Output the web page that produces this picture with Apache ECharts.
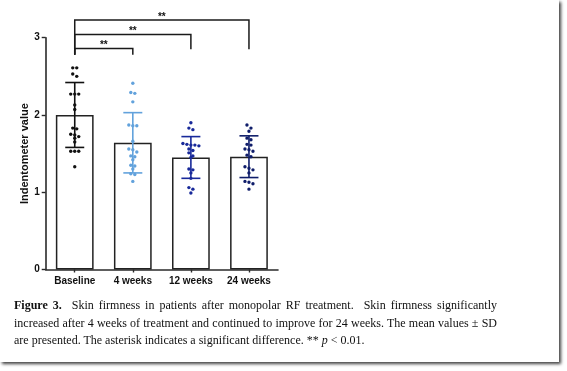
<!DOCTYPE html>
<html>
<head>
<meta charset="utf-8">
<script src="https://cdn.jsdelivr.net/npm/echarts@6/dist/echarts.min.js"></script>
<style>
  html, body { margin: 0; padding: 0; background: #fff; }
  body { width: 567px; height: 371px; position: relative; overflow: hidden; }
  #page { position: absolute; left: 0; top: 0; width: 559px; height: 362px; background: #fff;
          box-shadow: 2px 2px 3px rgba(0,0,0,0.75); }
  #chart { position: absolute; left: 0; top: 0; width: 567px; height: 371px; }
  #caption { position: absolute; left: 14px; top: 296px; width: 483px;
             font-family: "Liberation Serif", "Times New Roman", serif; font-size: 12px;
             line-height: 18px; color: #111; }
  #caption div.j { text-align: justify; text-align-last: justify; white-space: nowrap; }
  #caption div { height: 18px; }
  #caption div.l3 { height: 18px; margin-top: -1px; }
</style>
</head>
<body>
<div id="page"></div>
<div id="chart"></div>
<div id="caption">
  <div class="j"><b>Figure 3.</b>&nbsp; Skin firmness in patients after monopolar RF treatment.&nbsp; Skin firmness significantly</div>
  <div class="j">increased after 4 weeks of treatment and continued to improve for 24 weeks. The mean values ± SD</div>
  <div class="l3">are presented. The asterisk indicates a significant difference. ** <i>p</i> &lt; 0.01.</div>
</div>
<script>
const categories = ['Baseline', '4 weeks', '12 weeks', '24 weeks'];
const means = [2.0, 1.64, 1.45, 1.46];
const sds = [0.42, 0.39, 0.27, 0.27];
const baselineValues = [2.61, 2.61, 2.53, 2.50, 2.27, 2.27, 2.27, 2.13, 2.07, 1.83, 1.82, 1.75, 1.74, 1.72, 1.70, 1.65, 1.53, 1.53, 1.53, 1.33];
const week4Values = [2.41, 2.29, 2.28, 2.17, 1.87, 1.86, 1.86, 1.66, 1.56, 1.55, 1.52, 1.47, 1.46, 1.42, 1.35, 1.34, 1.30, 1.24, 1.23, 1.14];
const week12Values = [1.90, 1.83, 1.81, 1.63, 1.62, 1.61, 1.61, 1.60, 1.56, 1.54, 1.51, 1.47, 1.45, 1.30, 1.29, 1.25, 1.18, 1.06, 1.04, 0.99];
const week24Values = [1.87, 1.83, 1.79, 1.70, 1.68, 1.62, 1.61, 1.56, 1.55, 1.53, 1.48, 1.46, 1.33, 1.31, 1.29, 1.25, 1.14, 1.13, 1.11, 1.04];
const yTicks = { min: 0, max: 3, interval: 1 };
// significance comparisons: [from category, to category, bracket level, left end, right end, label]
const comparisons = [
  [0, 1, 2.86, 2.78, 2.78, '**'],
  [0, 2, 3.04, 2.78, 2.85, '**'],
  [0, 3, 3.23, 2.78, 2.85, '**']
];
const groupColors = ['#111111', '#62a2dc', '#18299a', '#0f1d6a'];

const groups = [baselineValues, week4Values, week12Values, week24Values];

// simple symmetric beeswarm: cluster near-equal values and spread them side by side
function swarmSlots(values, gap) {
  const idx = values.map((v, i) => i).sort((a, b) => values[b] - values[a]);
  const slots = new Array(values.length).fill(0);
  let cluster = [];
  const flush = () => {
    const n = cluster.length;
    cluster.forEach((id, k) => { slots[id] = k - (n - 1) / 2; });
    cluster = [];
  };
  idx.forEach(i => {
    if (cluster.length && values[cluster[0]] - values[i] > gap) flush();
    cluster.push(i);
  });
  flush();
  return slots;
}

const dotData = [];
groups.forEach((vals, g) => {
  const slots = swarmSlots(vals, 0.045);
  vals.forEach((v, i) => dotData.push([g, v, slots[i]]));
});
const errData = categories.map((c, i) => [i, means[i] - sds[i], means[i] + sds[i]]);

const chart = echarts.init(document.getElementById('chart'), null, { renderer: 'canvas' });
const axisColor = '#2a2a2a';
const sans = 'Liberation Sans, Arial, sans-serif';
chart.setOption({
  animation: false,
  backgroundColor: 'transparent',
  grid: { left: 45.7, right: 289, top: 37.7, bottom: 101.5, containLabel: false },
  xAxis: {
    type: 'category', data: categories,
    axisLine: { lineStyle: { color: axisColor, width: 1.6 } },
    axisTick: { show: true, alignWithLabel: true, length: 3, lineStyle: { color: axisColor, width: 1.4 } },
    axisLabel: { color: '#111', fontFamily: sans, fontWeight: 'bold', fontSize: 10, margin: 7, interval: 0 }
  },
  yAxis: {
    type: 'value', min: yTicks.min, max: yTicks.max, interval: yTicks.interval,
    name: 'Indentometer value', nameLocation: 'middle', nameGap: 15, nameRotate: 90,
    nameTextStyle: { color: '#111', fontFamily: sans, fontWeight: 'bold', fontSize: 11 },
    splitLine: { show: false },
    axisLine: { show: true, lineStyle: { color: axisColor, width: 1.6 } },
    axisTick: { show: true, length: 4, lineStyle: { color: axisColor, width: 1.4 } },
    axisLabel: { color: '#111', fontFamily: sans, fontWeight: 'bold', fontSize: 10, margin: 6 }
  },
  series: [
    {
      type: 'bar', data: means, barWidth: '65%', z: 1,
      itemStyle: { color: '#ffffff', borderColor: '#222', borderWidth: 1.5 }
    },
    {
      type: 'custom', z: 3, data: errData, encode: { x: 0, y: [1, 2] },
      renderItem: function (params, api) {
        const i = api.value(0);
        const lo = api.coord([i, api.value(1)]);
        const hi = api.coord([i, api.value(2)]);
        const half = 9.5;
        const st = { stroke: groupColors[i], lineWidth: 1.6 };
        return { type: 'group', children: [
          { type: 'line', shape: { x1: lo[0], y1: lo[1], x2: hi[0], y2: hi[1] }, style: st },
          { type: 'line', shape: { x1: hi[0] - half, y1: hi[1], x2: hi[0] + half, y2: hi[1] }, style: st },
          { type: 'line', shape: { x1: lo[0] - half, y1: lo[1], x2: lo[0] + half, y2: lo[1] }, style: st }
        ] };
      }
    },
    {
      type: 'custom', z: 4, data: dotData, encode: { x: 0, y: 1 },
      renderItem: function (params, api) {
        const g = api.value(0);
        const p = api.coord([g, api.value(1)]);
        const spacing = 4;
        return { type: 'circle', shape: { cx: p[0] + api.value(2) * spacing, cy: p[1], r: 1.7 },
                 style: { fill: groupColors[g] } };
      }
    },
    {
      type: 'custom', z: 5, data: comparisons, encode: { x: 0, y: 2 }, clip: false,
      renderItem: function (params, api) {
        const a = api.value(0), b = api.value(1);
        const top = api.value(2);
        const pL = api.coord([a, api.value(3)]);
        const pR = api.coord([b, api.value(4)]);
        const tL = api.coord([a, top]);
        const tR = api.coord([b, top]);
        const cx = (tL[0] + tR[0]) / 2;
        return { type: 'group', children: [
          { type: 'polyline', shape: { points: [[pL[0], pL[1]], [tL[0], tL[1]], [tR[0], tR[1]], [pR[0], pR[1]]] },
            style: { stroke: '#1a1a1a', lineWidth: 1.5, fill: null } },
          { type: 'text', x: cx, y: tL[1] - 3,
            style: { text: comparisons[params.dataIndex][5], fill: '#111', fontSize: 10, fontWeight: 'bold',
                     fontFamily: sans, align: 'center', verticalAlign: 'middle' } }
        ] };
      }
    }
  ]
});
</script>
</body>
</html>
